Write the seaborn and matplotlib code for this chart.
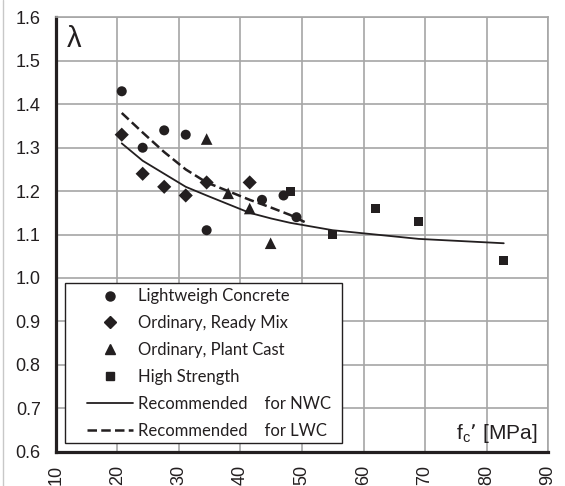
import matplotlib
matplotlib.use("Agg")
import matplotlib.pyplot as plt
from matplotlib.lines import Line2D
from matplotlib.patches import Rectangle
import seaborn as sns

# 数据
lw_fc = [20.7, 24.1, 27.6, 31.1, 34.5, 43.5, 47.0, 49.1]
lw_lam = [1.43, 1.30, 1.34, 1.33, 1.11, 1.18, 1.19, 1.14]

rm_fc = [20.7, 24.1, 27.6, 31.1, 34.5, 41.5]
rm_lam = [1.33, 1.24, 1.21, 1.19, 1.22, 1.22]

pc_fc = [34.5, 38.0, 41.5, 44.9]
pc_lam = [1.32, 1.195, 1.16, 1.08]

hs_fc = [48.1, 55.0, 62.0, 69.0, 82.8]
hs_lam = [1.20, 1.10, 1.16, 1.13, 1.04]

nwc_fc = [20.7, 24.1, 27.6, 31.1, 34.5, 38.0, 41.5, 45.0, 48.1, 55.0, 62.0, 69.0, 82.8]
nwc_lam = [1.31, 1.27, 1.24, 1.21, 1.19, 1.17, 1.15, 1.137, 1.127, 1.11, 1.10, 1.09, 1.08]

lwc_fc = [20.7, 24.1, 27.6, 31.1, 34.5, 38.0, 41.5, 45.0, 48.1, 51.0]
lwc_lam = [1.38, 1.335, 1.29, 1.25, 1.22, 1.20, 1.18, 1.162, 1.145, 1.125]

legend_labels = [
    "Lightweigh Concrete",
    "Ordinary, Ready Mix",
    "Ordinary, Plant Cast",
    "High Strength",
    "Recommended    for NWC",
    "Recommended    for LWC",
]

x_ticks = [10, 20, 30, 40, 50, 60, 70, 80, 90]
y_ticks = [0.6, 0.7, 0.8, 0.9, 1.0, 1.1, 1.2, 1.3, 1.4, 1.5, 1.6]

sns.set_style("white")
plt.rcParams["font.family"] = ["Liberation Sans", "DejaVu Sans"]

INK = "#231f20"
GRID = "#a6a6a6"
TICK_FONT = "Liberation Sans"
DASH = (0, (3.8, 1.7))

fig = plt.figure(figsize=(5.65, 4.86), dpi=100)
ax = fig.add_axes([0.099, 0.0706, 0.871, 0.8935])

sns.lineplot(x=nwc_fc, y=nwc_lam, ax=ax, color=INK, lw=1.3, sort=False)
sns.lineplot(x=lwc_fc, y=lwc_lam, ax=ax, color=INK, lw=1.8, sort=False,
             linestyle=DASH)
sns.scatterplot(x=lw_fc, y=lw_lam, ax=ax, marker="o", s=52, color=INK, edgecolor="none", zorder=3)
sns.scatterplot(x=rm_fc, y=rm_lam, ax=ax, marker="D", s=52, color=INK, edgecolor="none", zorder=3)
sns.scatterplot(x=pc_fc, y=pc_lam, ax=ax, marker="^", s=70, color=INK, edgecolor="none", zorder=3)
sns.scatterplot(x=hs_fc, y=hs_lam, ax=ax, marker="s", s=40, color=INK, edgecolor="none", zorder=3)

ax.set_xlim(10, 90)
ax.set_ylim(0.6, 1.6)
ax.set_xticks(x_ticks)
ax.set_yticks(y_ticks)
ax.set_xticklabels([str(v) for v in x_ticks], rotation=90, fontfamily=TICK_FONT)
ax.set_yticklabels([f"{v:.1f}" for v in y_ticks], fontfamily=TICK_FONT)
ax.tick_params(axis="both", labelsize=13, colors=INK, length=0)
ax.tick_params(axis="y", pad=11)
ax.tick_params(axis="x", pad=9.5)
ax.grid(True, color=GRID, lw=1.2)
ax.set_axisbelow(True)
for side in ["top", "right"]:
    ax.spines[side].set_color(GRID)
    ax.spines[side].set_linewidth(1.2)
for side in ["left", "bottom"]:
    ax.spines[side].set_color(INK)
    ax.spines[side].set_linewidth(2.3)
ax.set_xlabel("")
ax.set_ylabel("")

ax.text(12.9, 1.551, "λ", fontsize=21, color=INK, ha="center", va="center",
        family=["Liberation Sans", "DejaVu Sans"])
ax.text(88.3, 0.643, r"f$_\mathregular{c}$’ [MPa]", fontsize=15, color=INK,
        ha="right", va="center", family=["Liberation Sans", "DejaVu Sans"])

handles = [
    Line2D([], [], ls="none", marker="o", ms=6.5, color=INK),
    Line2D([], [], ls="none", marker="D", ms=6.5, color=INK),
    Line2D([], [], ls="none", marker="^", ms=7.5, color=INK),
    Line2D([], [], ls="none", marker="s", ms=6, color=INK),
    Line2D([], [], color=INK, lw=1.3),
    Line2D([], [], color=INK, lw=1.8, ls=DASH),
]
leg = ax.legend(handles, legend_labels, loc="upper left",
                bbox_to_anchor=(0.0624, 0.376), frameon=False,
                borderpad=0, borderaxespad=0,
                handlelength=2.77, handletextpad=0.3,
                labelspacing=0.65, prop={"family": "Lato", "size": 12})
for t in leg.get_texts():
    t.set_color(INK)

# legend frame drawn separately so the left padding matches the reference
ax.add_patch(Rectangle((0.018, 0.02), 0.563, 0.368, transform=ax.transAxes,
                       facecolor="white", edgecolor=INK, lw=1.0, zorder=4))
leg.set_zorder(5)

fig.add_artist(Line2D([0.006, 0.006], [0.0, 1.0], color="#c8c8c8", lw=1.0,
                      transform=fig.transFigure))

fig.savefig("out.png", dpi=100)
